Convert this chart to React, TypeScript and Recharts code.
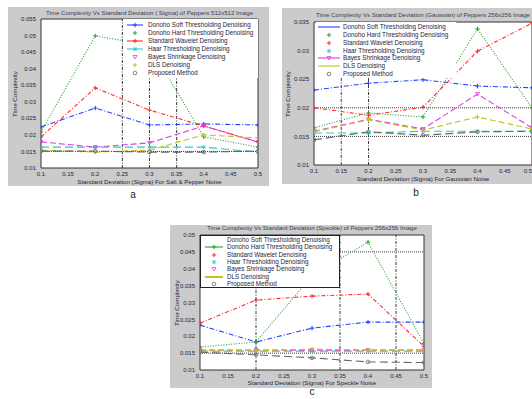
import React from 'react';
import { LineChart, Line, XAxis, YAxis, ReferenceLine, CartesianGrid } from 'recharts';

// ---------- shared data ----------
const sigma = [0.1, 0.2, 0.3, 0.4, 0.5];
const xTicks = [0.1, 0.15, 0.2, 0.25, 0.3, 0.35, 0.4, 0.45, 0.5];
const seriesKeys = ['soft', 'hard', 'wavelet', 'haar', 'bayes', 'dls', 'proposed'];
const seriesNames = [
  'Donoho Soft Thresholding Denoising',
  'Donoho Hard Thresholding Denoising',
  'Standard Wavelet Denoising',
  'Haar Thresholding Denoising',
  'Bayes Shrinkage Denoising',
  'DLS Denoising',
  'Proposed Method',
];

// ---------- panel a ----------
const aSoft = [0.0224, 0.0281, 0.023, 0.0233, 0.023];
const aHard = [0.0209, 0.0499, 0.0471, 0.0194, 0.0163];
const aWavelet = [0.0194, 0.0342, 0.0275, 0.0227, 0.0179];
const aHaar = [0.0163, 0.0163, 0.0163, 0.0163, 0.0148];
const aBayes = [0.0179, 0.0163, 0.0176, 0.0227, 0.0178];
const aDls = [0.0154, 0.0148, 0.0154, 0.02, 0.0191];
const aProposed = [0.0151, 0.0151, 0.0148, 0.0148, 0.0151];
const aYTicks = [0.01, 0.015, 0.02, 0.025, 0.03, 0.035, 0.04, 0.045, 0.05, 0.055];
const aRefX = [0.25, 0.3, 0.35];
const aRefY = [0.015];
const aTitle = 'Time Complexity Vs Standard Deviation ( Sigma) of Peppers 512x512 Image';
const aXLabel = 'Standard Deviation (Sigma) For Salt & Pepper Noise';

// ---------- panel b ----------
const bSoft = [0.0231, 0.0243, 0.0249, 0.0238, 0.0235];
const bHard = [0.0165, 0.0191, 0.0184, 0.0338, 0.02];
const bWavelet = [0.02, 0.0187, 0.0201, 0.0299, 0.0348];
const bHaar = [0.0156, 0.0156, 0.0159, 0.0159, 0.0159];
const bBayes = [0.0159, 0.018, 0.0163, 0.0224, 0.0165];
const bDls = [0.0158, 0.0179, 0.0161, 0.0184, 0.0163];
const bProposed = [0.0144, 0.0158, 0.0152, 0.0158, 0.0159];
const bYTicks = [0.01, 0.015, 0.02, 0.025, 0.03, 0.035];
const bRefX = [0.15, 0.2];
const bRefY = [0.015, 0.02];
const bTitle = 'Time Complexity Vs Standard Deviation (Gaussian) of Peppers 256x256 Image';
const bXLabel = 'Standard Deviation (Sigma) For Gaussian Noise';

// ---------- panel c ----------
const cSoft = [0.0233, 0.0183, 0.0224, 0.0242, 0.0242];
const cHard = [0.0168, 0.0183, 0.0379, 0.0479, 0.0178];
const cWavelet = [0.0239, 0.0307, 0.0319, 0.0325, 0.017];
const cHaar = [0.0156, 0.0156, 0.0156, 0.0156, 0.0156];
const cBayes = [0.0159, 0.0159, 0.0159, 0.0159, 0.0159];
const cDls = [0.0157, 0.0157, 0.0162, 0.0159, 0.0159];
const cProposed = [0.0153, 0.0145, 0.0136, 0.0124, 0.0122];
const cYTicks = [0.01, 0.015, 0.02, 0.025, 0.03, 0.035, 0.04, 0.045, 0.05];
const cRefX = [0.2, 0.35, 0.45];
const cRefY = [0.015, 0.045];
const cTitle = 'Time Complexity Vs Standard Deviation (Speckle) of Peppers 256x256 Image';
const cXLabel = 'Standard Deviation (Sigma) For Speckle Noise';

const yLabel = 'Time Complexity';

function buildRows(cols: number[][]) {
  return sigma.map((s, i) => {
    const r: any = { sigma: s };
    seriesKeys.forEach((k, j) => (r[k] = cols[j][i]));
    return r;
  });
}

const GRAY = '#cbcbcb';
const FONT = '"Liberation Sans", Arial, sans-serif';
const TEXT = '#1e1e3c';

const styles: Record<string, { color: string; dash: string; marker: string }> = {
  soft: { color: '#2244ff', dash: '5 2 1 2', marker: 'plus' },
  hard: { color: '#2e9e2e', dash: '1 1.6', marker: 'plus' },
  wavelet: { color: '#ff2a2a', dash: '4 2 1 2', marker: 'plus' },
  haar: { color: '#2ccaca', dash: '8 4', marker: 'star' },
  bayes: { color: '#e03ce0', dash: '6 3', marker: 'tri' },
  dls: { color: '#c4c418', dash: '6 3', marker: 'plus' },
  proposed: { color: '#666666', dash: '8 4', marker: 'circle' },
};

function markerPath(type: string, cx: number, cy: number, color: string, key?: any) {
  const s = 2.2;
  if (type === 'plus')
    return <path key={key} d={`M${cx - s},${cy}H${cx + s}M${cx},${cy - s}V${cy + s}`} stroke={color} strokeWidth={1} fill="none" />;
  if (type === 'star')
    return (
      <path
        key={key}
        d={`M${cx - s},${cy}H${cx + s}M${cx},${cy - s}V${cy + s}M${cx - 1.6},${cy - 1.6}L${cx + 1.6},${cy + 1.6}M${cx - 1.6},${cy + 1.6}L${cx + 1.6},${cy - 1.6}`}
        stroke={color}
        strokeWidth={0.8}
        fill="none"
      />
    );
  if (type === 'tri')
    return <path key={key} d={`M${cx - 2},${cy - 1.5}L${cx + 2},${cy - 1.5}L${cx},${cy + 2}Z`} stroke={color} strokeWidth={0.8} fill="none" />;
  if (type === 'circle') return <circle key={key} cx={cx} cy={cy} r={1.8} stroke={color} strokeWidth={0.8} fill="none" />;
  return <g key={key} />;
}

const fmt = (v: number) => String(+v.toFixed(4));

type Cfg = {
  left: number;
  top: number;
  width: number;
  height: number;
  plotLeft: number;
  plotTop: number;
  plotRight: number;
  plotBottom: number;
  rows: any[];
  yTicks: number[];
  refX: number[];
  refY: number[];
  title: string;
  titleY: number;
  xLabel: string;
  xLabelY: number;
  yLabelX: number;
  letter: string;
  letterX: number;
  letterY: number;
  legend: { left: number; top: number; width: number; height: number; rowTop: number; rowStep: number; sx0: number; sx1: number; tx: number; border: boolean; samples: string[] };
};

function Panel({ c }: { c: Cfg }) {
  const marginTop = c.plotTop - c.top;
  const yAxisW = c.plotLeft - c.left;
  const marginRight = c.left + c.width - c.plotRight;
  const xAxisH = c.top + c.height - c.plotBottom;
  const yMin = c.yTicks[0];
  const yMax = c.yTicks[c.yTicks.length - 1];
  const plotCx = (c.plotLeft + c.plotRight) / 2;
  const plotCy = (c.plotTop + c.plotBottom) / 2;
  const lg = c.legend;
  const XTick = (p: any) => {
    const label = fmt(p.payload.value);
    const nearEdge = p.x + 5 > c.width;
    return (
      <text
        x={p.x}
        y={p.y + 2}
        dy="0.71em"
        textAnchor={nearEdge ? 'end' : 'middle'}
        fontSize={6}
        fill={TEXT}
        fontFamily={FONT}
      >
        {label}
      </text>
    );
  };
  return (
    <>
      <div style={{ position: 'absolute', left: c.left, top: c.top, width: c.width, height: c.height, background: GRAY }}>
        <LineChart width={c.width} height={c.height} data={c.rows} margin={{ top: marginTop, right: marginRight, bottom: 0, left: 0 }}>
          <CartesianGrid horizontal={false} vertical={false} fill="#ffffff" fillOpacity={1} />
          <XAxis
            dataKey="sigma"
            type="number"
            domain={[0.1, 0.5]}
            ticks={xTicks}
            interval={0}
            height={xAxisH}
            tickSize={0}
            tickLine={false}
            axisLine={{ stroke: '#333', strokeWidth: 1 }}
            tick={XTick}
            allowDataOverflow
          />
          <YAxis
            type="number"
            domain={[yMin, yMax]}
            ticks={c.yTicks}
            tickFormatter={fmt}
            interval={0}
            width={yAxisW}
            tickSize={3}
            tickLine={false}
            axisLine={{ stroke: '#333', strokeWidth: 1 }}
            tick={{ fontSize: 6, fill: TEXT, fontFamily: FONT }}
            allowDataOverflow
          />
          <ReferenceLine y={yMax} stroke="#333" strokeWidth={1} />
          <ReferenceLine x={0.5} stroke="#333" strokeWidth={1} />
          {c.refX.map((x) => (
            <ReferenceLine key={'rx' + x} x={x} stroke="#222" strokeWidth={0.9} strokeDasharray="3 1.5 1 1.5" />
          ))}
          {c.refY.map((y) => (
            <ReferenceLine key={'ry' + y} y={y} stroke="#222" strokeWidth={0.9} strokeDasharray="1 1" />
          ))}
          {seriesKeys.map((k) => {
            const st = styles[k];
            return (
              <Line
                key={k}
                dataKey={k}
                name={k}
                type="linear"
                stroke={st.color}
                strokeWidth={1.1}
                strokeDasharray={st.dash}
                isAnimationActive={false}
                dot={(p: any) => markerPath(st.marker, p.cx, p.cy, st.color, p.index)}
                activeDot={false}
              />
            );
          })}
        </LineChart>
      </div>
      {/* legend */}
      <div
        style={{
          position: 'absolute',
          left: lg.left,
          top: lg.top,
          width: lg.width,
          height: lg.height,
          background: '#fff',
          boxSizing: 'border-box',
          border: lg.border ? '1px solid #222' : 'none',
        }}
      />
      {seriesKeys.map((k, i) => {
        const st = styles[k];
        const y = lg.rowTop + i * lg.rowStep;
        const smp = lg.samples[i];
        const w = lg.sx1 - lg.sx0;
        return (
          <React.Fragment key={'lg' + k}>
            <svg style={{ position: 'absolute', left: lg.sx0, top: y - 3, overflow: 'visible' }} width={w} height={6}>
              {smp.includes('L') && <line x1={0} y1={3} x2={w} y2={3} stroke={st.color} strokeWidth={smp.includes('T') ? 2 : 1.1} />}
              {smp.includes('M') && markerPath(st.marker, w / 2, 3, st.color)}
            </svg>
            <div
              style={{
                position: 'absolute',
                left: lg.tx,
                top: y - 4,
                fontFamily: FONT,
                fontSize: 6.3,
                lineHeight: '8px',
                color: TEXT,
                whiteSpace: 'nowrap',
              }}
            >
              {seriesNames[i]}
            </div>
          </React.Fragment>
        );
      })}
      {/* title */}
      <div
        style={{
          position: 'absolute',
          left: plotCx,
          top: c.titleY - 4,
          transform: 'translateX(-50%)',
          fontFamily: FONT,
          fontSize: 6.1,
          lineHeight: '8px',
          color: '#3a3a5a',
          whiteSpace: 'nowrap',
        }}
      >
        {c.title}
      </div>
      {/* x label */}
      <div
        style={{
          position: 'absolute',
          left: plotCx,
          top: c.xLabelY - 4,
          transform: 'translateX(-50%)',
          fontFamily: FONT,
          fontSize: 6.2,
          lineHeight: '8px',
          color: TEXT,
          whiteSpace: 'nowrap',
        }}
      >
        {c.xLabel}
      </div>
      {/* y label */}
      <div
        style={{
          position: 'absolute',
          left: c.yLabelX,
          top: plotCy,
          transform: 'translate(-50%, -50%) rotate(-90deg)',
          fontFamily: FONT,
          fontSize: 6.2,
          lineHeight: '8px',
          color: TEXT,
          whiteSpace: 'nowrap',
        }}
      >
        {yLabel}
      </div>
      {/* panel letter */}
      <div
        style={{
          position: 'absolute',
          left: c.letterX,
          top: c.letterY - 6,
          transform: 'translateX(-50%)',
          fontFamily: FONT,
          fontSize: 10,
          lineHeight: '12px',
          color: '#222',
        }}
      >
        {c.letter}
      </div>
    </>
  );
}

const panelA: Cfg = {
  left: 8, top: 7, width: 261, height: 179,
  plotLeft: 41, plotTop: 19, plotRight: 258, plotBottom: 168,
  rows: buildRows([aSoft, aHard, aWavelet, aHaar, aBayes, aDls, aProposed]),
  yTicks: aYTicks, refX: aRefX, refY: aRefY,
  title: aTitle, titleY: 13, xLabel: aXLabel, xLabelY: 182, yLabelX: 15,
  letter: 'a', letterX: 133, letterY: 195,
  legend: { left: 123, top: 19, width: 135, height: 59, rowTop: 25, rowStep: 8, sx0: 127, sx1: 143, tx: 148, border: false,
    samples: ['LM', 'M', 'LM', 'LM', 'M', 'M', 'M'] },
};

const panelB: Cfg = {
  left: 282, top: 8, width: 250, height: 176,
  plotLeft: 314, plotTop: 22, plotRight: 532, plotBottom: 165,
  rows: buildRows([bSoft, bHard, bWavelet, bHaar, bBayes, bDls, bProposed]),
  yTicks: bYTicks, refX: bRefX, refY: bRefY,
  title: bTitle, titleY: 15, xLabel: bXLabel, xLabelY: 179, yLabelX: 288,
  letter: 'b', letterX: 416, letterY: 193,
  legend: { left: 316, top: 22, width: 140, height: 56, rowTop: 27, rowStep: 7.85, sx0: 318, sx1: 340, tx: 343, border: false,
    samples: ['L', 'M', 'M', 'M', 'LM', 'L', 'M'] },
};

const panelC: Cfg = {
  left: 170, top: 225, width: 262, height: 163,
  plotLeft: 200, plotTop: 235, plotRight: 424, plotBottom: 370,
  rows: buildRows([cSoft, cHard, cWavelet, cHaar, cBayes, cDls, cProposed]),
  yTicks: cYTicks, refX: cRefX, refY: cRefY,
  title: cTitle, titleY: 228, xLabel: cXLabel, xLabelY: 383, yLabelX: 177,
  letter: 'c', letterX: 312, letterY: 392,
  legend: { left: 200, top: 235, width: 140, height: 53, rowTop: 240, rowStep: 7.35, sx0: 205, sx1: 223, tx: 227, border: true,
    samples: ['', 'LM', 'M', 'M', 'M', 'LT', 'M'] },
};

export default function App() {
  return (
    <div style={{ position: 'absolute', left: 0, top: 0, width: 532, height: 399, overflow: 'hidden', background: '#fff' }}>
      <Panel c={panelA} />
      <Panel c={panelB} />
      <Panel c={panelC} />
    </div>
  );
}
